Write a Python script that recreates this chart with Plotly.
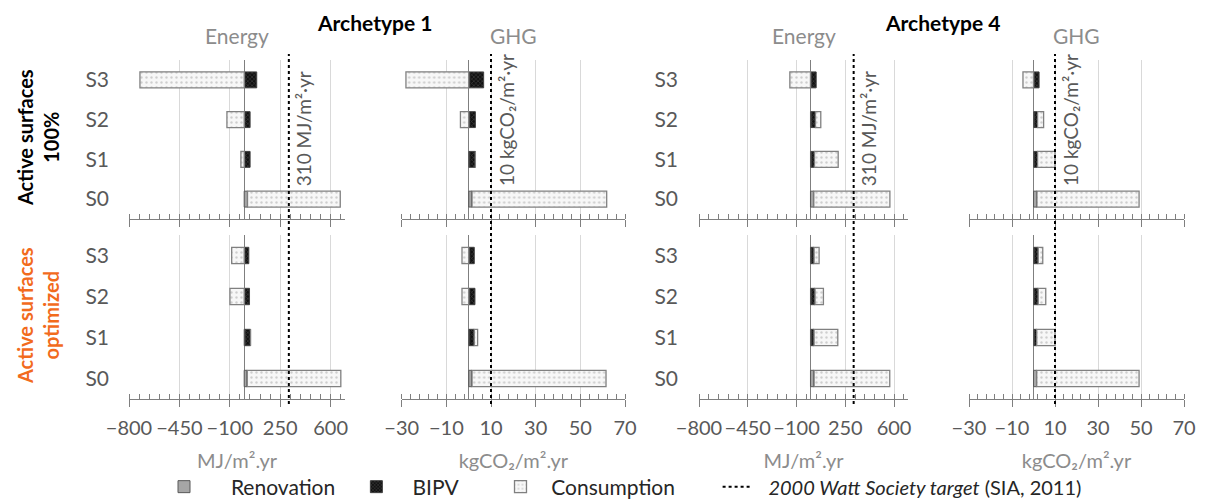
import plotly.graph_objects as go

FONT = "Lato"

scenarios = ["S0", "S1", "S2", "S3"]

# Archetype 1 - Energy (MJ/m2.yr)
a1_energy_100_renovation = [23, 5, 5, 5]
a1_energy_100_bipv = [0, 36, 36, 82]
a1_energy_100_consumption = [644, -23, -120, -724]
a1_energy_opt_renovation = [21, 6, 5, 5]
a1_energy_opt_bipv = [0, 38, 32, 27]
a1_energy_opt_consumption = [650, 0, -99, -87]

# Archetype 1 - GHG (kgCO2/m2.yr)
a1_ghg_100_renovation = [1.5, 0.3, 0.3, 0.3]
a1_ghg_100_bipv = [0, 2.7, 2.7, 6.4]
a1_ghg_100_consumption = [60.3, 0, -3.7, -28.1]
a1_ghg_opt_renovation = [1.5, 0.3, 0.3, 0.3]
a1_ghg_opt_bipv = [0, 2.2, 2.5, 2.2]
a1_ghg_opt_consumption = [60.0, 1.5, -3.0, -3.0]

# Archetype 4 - Energy (MJ/m2.yr)
a4_energy_100_renovation = [24, 6, 5, 5]
a4_energy_100_bipv = [0, 23, 31, 36]
a4_energy_100_consumption = [546, 170, 38, -148]
a4_energy_opt_renovation = [26, 8, 5, 5]
a4_energy_opt_bipv = [0, 18, 28, 21]
a4_energy_opt_consumption = [543, 170, 60, 36]

# Archetype 4 - GHG (kgCO2/m2.yr)
a4_ghg_100_renovation = [1.6, 0.3, 0.3, 0.3]
a4_ghg_100_bipv = [0, 1.6, 1.6, 2.3]
a4_ghg_100_consumption = [47.5, 8.1, 2.8, -4.9]
a4_ghg_opt_renovation = [1.5, 0.4, 0.3, 0.3]
a4_ghg_opt_bipv = [0, 1.1, 1.9, 1.9]
a4_ghg_opt_consumption = [47.6, 8.5, 3.5, 2.1]

# 2000 Watt Society targets
energy_target = 310
ghg_target = 10

energy_ticks = [-800, -450, -100, 250, 600]
ghg_ticks = [-30, -10, 10, 30, 50, 70]

series_names = ["Renovation", "BIPV", "Consumption"]
target_name = "<i>2000 Watt Society target</i> (SIA, 2011)"
row_titles = ["<b>Active surfaces<br>100%</b>", "<b>Active surfaces<br>optimized</b>"]
row_title_colors = ["#000000", "#F26B1D"]
col_titles = ["Energy", "GHG", "Energy", "GHG"]
arch_titles = ["<b>Archetype 1</b>", "<b>Archetype 4</b>"]
unit_titles = {"energy": "MJ/m².yr", "ghg": "kgCO₂/m².yr"}
target_labels = {"energy": "310 MJ/m²·yr", "ghg": "10 kgCO₂/m²·yr"}

panels = [
    # row, col, metric, renovation, bipv, consumption
    (0, 0, "energy", a1_energy_100_renovation, a1_energy_100_bipv, a1_energy_100_consumption),
    (0, 1, "ghg", a1_ghg_100_renovation, a1_ghg_100_bipv, a1_ghg_100_consumption),
    (0, 2, "energy", a4_energy_100_renovation, a4_energy_100_bipv, a4_energy_100_consumption),
    (0, 3, "ghg", a4_ghg_100_renovation, a4_ghg_100_bipv, a4_ghg_100_consumption),
    (1, 0, "energy", a1_energy_opt_renovation, a1_energy_opt_bipv, a1_energy_opt_consumption),
    (1, 1, "ghg", a1_ghg_opt_renovation, a1_ghg_opt_bipv, a1_ghg_opt_consumption),
    (1, 2, "energy", a4_energy_opt_renovation, a4_energy_opt_bipv, a4_energy_opt_consumption),
    (1, 3, "ghg", a4_ghg_opt_renovation, a4_ghg_opt_bipv, a4_ghg_opt_consumption),
]

W, H = 1208, 500
col_px = [(129, 345), (401.7, 625), (699, 908), (969, 1184)]
row_px = [(60, 219), (235, 399)]
col_dom = [[a / W, b / W] for a, b in col_px]
row_dom = [[1 - b / H, 1 - a / H] for a, b in row_px]

# legend labels padded with no-break spaces to spread the entries like the original
NB = "\u00a0"
legend_labels = [NB * 5 + "Renovation" + NB * 3,
                 NB * 3 + "BIPV" + NB * 7,
                 NB * 2 + "Consumption" + NB * 7]
target_legend = NB * 2 + '<span style="font-size:20px">' + target_name + "</span>"

styles = [
    dict(color="#a6a6a6", line=dict(color="#595959", width=1)),
    dict(color="#111111", line=dict(color="#404040", width=1),
         pattern=dict(shape="x", bgcolor="#111111", fgcolor="#808080", size=3, solidity=0.3)),
    dict(color="#fafafa", line=dict(color="#808080", width=1.3),
         pattern=dict(shape=".", bgcolor="#f7f7f7", fgcolor="#a6a6a6", size=5, solidity=0.18)),
]

fig = go.Figure()
layout = {}
annotations = []
shapes = []

for idx, (r, c, metric, ren, bipv, cons) in enumerate(panels):
    n = idx + 1
    xa = "x" if n == 1 else f"x{n}"
    ya = "y" if n == 1 else f"y{n}"
    for s, (name, vals) in enumerate(zip(legend_labels, [ren, bipv, cons])):
        fig.add_trace(go.Bar(
            x=vals, y=scenarios, orientation="h", name=name,
            xaxis=xa, yaxis=ya, width=0.4, marker=styles[s],
            showlegend=(n == 1), legendgroup=series_names[s], legendrank=s + 1,
        ))
    if metric == "energy":
        rng, tick0, mdt = [-800, 700], -800, 70
        tv = energy_ticks
    else:
        rng, tick0, mdt = [-30, 70], -30, 4
        tv = ghg_ticks
    xkey = "xaxis" if n == 1 else f"xaxis{n}"
    ykey = "yaxis" if n == 1 else f"yaxis{n}"
    layout[xkey] = dict(
        domain=col_dom[c], anchor=ya, range=rng, tickmode="array", tickvals=tv,
        showgrid=True, gridcolor="#d9d9d9", gridwidth=1,
        zeroline=True, zerolinecolor="#7f7f7f", zerolinewidth=1,
        showline=True, linecolor="#7f7f7f", linewidth=1,
        ticks="outside", ticklen=7, tickcolor="#7f7f7f",
        minor=dict(tick0=tick0, dtick=mdt, ticks="inside", ticklen=5,
                   tickcolor="#7f7f7f", showgrid=False),
        showticklabels=(r == 1), tickfont=dict(family=FONT, size=20, color="#595959"),
        ticklabelstandoff=4, fixedrange=True, automargin=False,
        title=dict(text=unit_titles[metric] if r == 1 else "",
                   font=dict(family=FONT, size=20, color="#8c8c8c"), standoff=15),
    )
    layout[ykey] = dict(
        domain=row_dom[r], anchor=xa, type="category", categoryorder="array",
        categoryarray=scenarios, range=[-0.5, 3.5], showgrid=False, zeroline=False,
        showline=False, ticks="", showticklabels=(c in (0, 2)),
        tickfont=dict(family=FONT, size=21, color="#595959"),
        ticklabelstandoff=(19 if c == 0 else 20), fixedrange=True, automargin=False,
    )
    if r == 0:
        tval = energy_target if metric == "energy" else ghg_target
        shapes.append(dict(
            type="line", xref=xa, yref="paper", x0=tval, x1=tval,
            y0=1 - 404 / H, y1=1 - 54 / H,
            line=dict(color="black", width=2, dash="dot"),
            showlegend=(n == 1), name=target_legend, legendrank=4,
        ))
        annotations.append(dict(
            text=target_labels[metric], xref=xa, yref="paper", x=tval, y=1 - 188 / H,
            xanchor="center", yanchor="bottom", xshift=15, textangle=-90, showarrow=False,
            font=dict(family=FONT, size=19, color="#595959"),
        ))
        annotations.append(dict(
            text=col_titles[c], xref="paper", yref="paper",
            x=(col_dom[c][0] + col_dom[c][1]) / 2, y=1 - 36 / H,
            xanchor="center", yanchor="middle", showarrow=False,
            font=dict(family=FONT, size=21, color="#8c8c8c"),
        ))

for t, xc in zip(arch_titles, [374, 942]):
    annotations.append(dict(text=t, xref="paper", yref="paper", x=xc / W, y=1 - 22 / H,
                            xanchor="center", yanchor="middle", showarrow=False,
                            font=dict(family=FONT, size=21, color="black")))
for t, col, yc in zip(row_titles, row_title_colors, [138, 316]):
    annotations.append(dict(text=t, xref="paper", yref="paper", x=38 / W, y=1 - yc / H,
                            xanchor="center", yanchor="middle", textangle=-90, showarrow=False,
                            font=dict(family=FONT, size=20, color=col)))

fig.update_layout(
    **layout,
    width=W, height=H, margin=dict(l=0, r=0, t=0, b=0, autoexpand=False),
    paper_bgcolor="white", plot_bgcolor="white",
    barmode="relative",
    shapes=shapes, annotations=annotations,
    font=dict(family=FONT, size=20, color="#262626"),
    legend=dict(orientation="h", x=164 / W, y=1 - 487 / H, xanchor="left", yanchor="middle",
                font=dict(family=FONT, size=21, color="#262626"), traceorder="normal",
                itemwidth=30, bgcolor="rgba(0,0,0,0)"),
)

fig.write_html("out.html", config={"displayModeBar": False},
               post_script="document.body.style.margin='0px';")
